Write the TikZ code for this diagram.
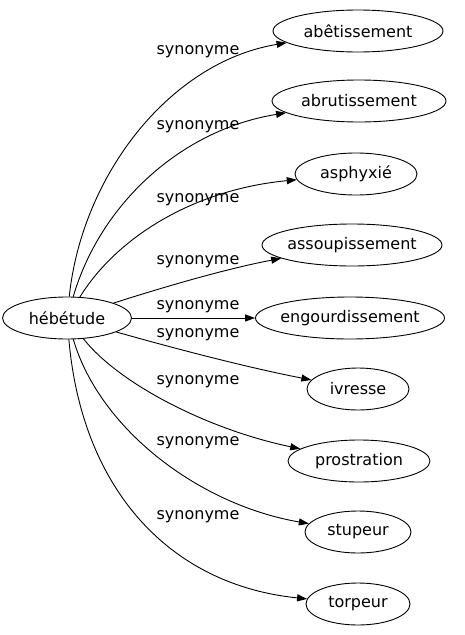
\documentclass[tikz,border=0pt]{standalone}
\usepackage{fontspec}
\setmainfont{DejaVu Sans}
\usetikzlibrary{shapes.geometric}
\usetikzlibrary{arrows.meta}
\tikzset{word/.style={draw, line width=0.9pt, ellipse, minimum height=42pt, inner xsep=-20pt, inner ysep=0pt, font=\fontsize{16}{19}\selectfont}}
\tikzset{syn/.style={inner sep=0pt, font=\fontsize{16}{19}\selectfont}}
\tikzset{rel/.style={-{Triangle[length=10pt,width=7pt]}, line width=0.9pt}}

\begin{document}
\begin{tikzpicture}[x=1pt,y=-1pt]
\useasboundingbox (0,0) rectangle (465,635);

\node[word, minimum width=129pt] (hebetude) at (67,318) {hébétude};

\node[word, minimum width=170pt] (abetissement) at (358,31) {abêtissement};
\node[word, minimum width=174pt] (abrutissement) at (359,101) {abrutissement};
\node[word, minimum width=122pt] (asphyxie) at (356,174) {asphyxié};
\node[word, minimum width=180pt] (assoupissement) at (352,245) {assoupissement};
\node[word, minimum width=189pt] (engourdissement) at (350,318) {engourdissement};
\node[word, minimum width=102pt] (ivresse) at (358,389) {ivresse};
\node[word, minimum width=142pt] (prostration) at (359,461) {prostration};
\node[word, minimum width=106pt] (stupeur) at (358,532) {stupeur};
\node[word, minimum width=104pt] (torpeur) at (358,604) {torpeur};

\draw[rel] (hebetude) .. controls (82,175) and (170,62) .. (abetissement);
\draw[rel] (hebetude) .. controls (100,205) and (180,130) .. (abrutissement);
\draw[rel] (hebetude) .. controls (115,240) and (190,190) .. (asphyxie);
\draw[rel] (hebetude) .. controls (170,285) and (230,268) .. (assoupissement);
\draw[rel] (hebetude) -- (engourdissement);
\draw[rel] (hebetude) .. controls (180,350) and (250,368) .. (ivresse);
\draw[rel] (hebetude) .. controls (120,385) and (210,430) .. (prostration);
\draw[rel] (hebetude) .. controls (100,430) and (200,505) .. (stupeur);
\draw[rel] (hebetude) .. controls (82,490) and (170,585) .. (torpeur);

\node[syn] (s1) at (198,52) {synonyme};
\node[syn] (s2) at (198,127) {synonyme};
\node[syn] (s3) at (198,200) {synonyme};
\node[syn] (s4) at (198,262) {synonyme};
\node[syn] (s5) at (198,307) {synonyme};
\node[syn] (s6) at (198,335) {synonyme};
\node[syn] (s7) at (198,382) {synonyme};
\node[syn] (s8) at (198,443) {synonyme};
\node[syn] (s9) at (198,517) {synonyme};
\end{tikzpicture}
\end{document}
